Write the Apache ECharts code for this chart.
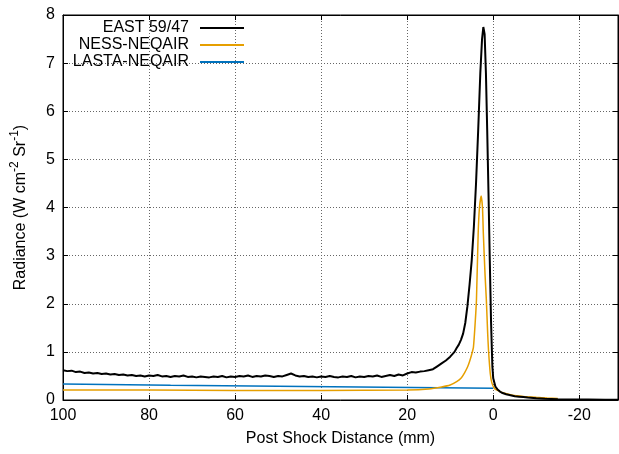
<!DOCTYPE html>
<html>
<head>
<meta charset="utf-8">
<script src="https://cdn.jsdelivr.net/npm/echarts@6/dist/echarts.min.js"></script>
<style>html,body{margin:0;padding:0;background:#fff}#c{width:619px;height:454px}</style>
</head>
<body>
<div id="c"></div>
<script>
var seriesNames = ['EAST 59/47', 'NESS-NEQAIR', 'LASTA-NEQAIR'];
var xTickLabels = ['100', '80', '60', '40', '20', '0', '-20'];

var eastX = [100,99,98,97,96,95,94,93,92,91,90,89,88,87,86,85,84,83,82,81,80,79,78,77,76,75,74,73,72,71,70,69,68,67,66,65,64,63,62,61,60,59,58,57,56,55,54,53,52,51,50,49,48,47,46,45,44,43,42,41,40,39,38,37,36,35,34,33,32,31,30,29,28,27,26,25,24,23,22,21,20,19,18,17,16,15,14,13,12,11,10,9,8.5,8,7.5,7,6.5,6,5.5,5,4.5,4,3.5,3,2.6,2.3,2.0,1.7,1.4,1.1,0.8,0.5,0.2,0,-0.5,-1,-1.5,-2,-3,-4,-5,-6,-7,-8,-10,-12,-15,-18,-22,-26,-29];
var eastY = [0.62,0.60,0.61,0.58,0.59,0.56,0.57,0.55,0.56,0.54,0.55,0.53,0.54,0.52,0.53,0.51,0.52,0.50,0.51,0.49,0.51,0.50,0.52,0.49,0.50,0.48,0.50,0.49,0.51,0.48,0.49,0.47,0.49,0.48,0.47,0.49,0.48,0.50,0.47,0.49,0.48,0.50,0.49,0.51,0.48,0.50,0.49,0.51,0.50,0.48,0.50,0.49,0.52,0.55,0.51,0.49,0.50,0.48,0.49,0.47,0.49,0.48,0.50,0.48,0.47,0.49,0.48,0.50,0.47,0.49,0.48,0.50,0.49,0.51,0.48,0.50,0.52,0.50,0.53,0.51,0.55,0.58,0.57,0.59,0.60,0.62,0.64,0.70,0.76,0.82,0.90,1.0,1.08,1.15,1.25,1.38,1.6,1.95,2.4,2.9,3.6,4.5,5.6,6.8,7.5,7.75,7.6,6.8,5.6,4.3,2.9,1.6,0.7,0.45,0.28,0.22,0.18,0.15,0.12,0.10,0.08,0.07,0.06,0.05,0.035,0.025,0.015,0.01,0.008,0.006,0.005];

var nessX = [100,80,60,40,20,15,12,10,8.5,7.5,6.7,6,5.5,5,4.6,4.2,3.9,3.5,3.2,2.8,2.5,2.3,1.9,1.6,1.3,1.1,0.7,0.3,-0.3,-1,-2.2,-4.5,-7,-10,-12.5,-15];
var nessY = [0.21,0.21,0.20,0.20,0.21,0.23,0.27,0.31,0.38,0.45,0.56,0.68,0.80,0.95,1.1,1.6,2.08,3.46,4.0,4.24,4.0,3.46,2.6,2.08,1.4,1.04,0.56,0.35,0.24,0.20,0.15,0.10,0.075,0.055,0.04,0.03];

var lastaX = [100,75,50,25,0];
var lastaY = [0.33,0.305,0.285,0.265,0.245];

function pairs(xs, ys){ return xs.map(function(x,i){ return [x, ys[i]]; }); }

var FONT = '"Liberation Sans", Arial, sans-serif';
var FS = 16;
var gridLine = {show:true, lineStyle:{color:'#666', type:[1,2], width:1}};

var chart = echarts.init(document.getElementById('c'), null, {renderer:'canvas'});
function legendAt(name, top){
  return {
    data:[name], orient:'vertical', right: 375, top: top, padding:0,
    align:'right', itemWidth:44, itemHeight:2, icon:'rect', selectedMode:false,
    textStyle:{fontFamily:FONT, fontSize:FS, color:'#000', padding:[0,6,0,0]}
  };
}
chart.setOption({
  animation:false,
  backgroundColor:'#fff',
  grid:{left:63, right:1, top:15, bottom:54, show:true, borderColor:'#000', borderWidth:1, backgroundColor:'transparent'},
  legend:[legendAt(seriesNames[0], 20), legendAt(seriesNames[1], 37), legendAt(seriesNames[2], 54)],
  xAxis:[{
    type:'value', min:-29, max:100, inverse:true, splitNumber:6,
    name:'Post Shock Distance (mm)', nameLocation:'middle', nameGap:31,
    nameTextStyle:{fontFamily:FONT, fontSize:FS, color:'#000'},
    axisLine:{show:true, onZero:false, lineStyle:{color:'#000'}},
    axisTick:{show:true, inside:true, length:5, lineStyle:{color:'#000'}},
    axisLabel:{showMinLabel:false, fontFamily:FONT, fontSize:FS, color:'#000', margin:8,
      formatter:function(v){ var s = String(v); return xTickLabels.indexOf(s) >= 0 ? s : ''; }},
    splitLine:gridLine
  },{
    type:'value', min:-29, max:100, inverse:true, splitNumber:6, position:'top',
    axisLine:{show:true, onZero:false, lineStyle:{color:'#000'}},
    axisTick:{show:true, inside:true, length:5, lineStyle:{color:'#000'}},
    axisLabel:{show:false}, splitLine:{show:false}
  }],
  yAxis:[{
    type:'value', min:0, max:8, interval:1,
    name:'Radiance (W cm{sup|-2} Sr{sup|-1})', nameLocation:'middle', nameGap:30,
    nameTextStyle:{fontFamily:FONT, fontSize:FS, color:'#000', lineHeight:24,
      rich:{sup:{fontFamily:FONT, fontSize:12, color:'#000', verticalAlign:'top', lineHeight:14}}},
    axisLine:{show:true, onZero:false, lineStyle:{color:'#000'}},
    axisTick:{show:true, inside:true, length:5, lineStyle:{color:'#000'}},
    axisLabel:{fontFamily:FONT, fontSize:FS, color:'#000', margin:8},
    splitLine:gridLine
  },{
    type:'value', min:0, max:8, interval:1, position:'right',
    axisLine:{show:true, onZero:false, lineStyle:{color:'#000'}},
    axisTick:{show:true, inside:true, length:5, lineStyle:{color:'#000'}},
    axisLabel:{show:false}, splitLine:{show:false}
  }],
  series:[
    {name:seriesNames[2], type:'line', symbol:'none', data:pairs(lastaX, lastaY), lineStyle:{color:'#0072BD', width:1.5}, itemStyle:{color:'#0072BD'}, z:2},
    {name:seriesNames[1], type:'line', symbol:'none', data:pairs(nessX, nessY), smooth:0.2, lineStyle:{color:'#E69F00', width:1.5}, itemStyle:{color:'#E69F00'}, z:3},
    {name:seriesNames[0], type:'line', symbol:'none', data:pairs(eastX, eastY), lineStyle:{color:'#000', width:2}, itemStyle:{color:'#000'}, z:4}
  ]
});
</script>
</body>
</html>
